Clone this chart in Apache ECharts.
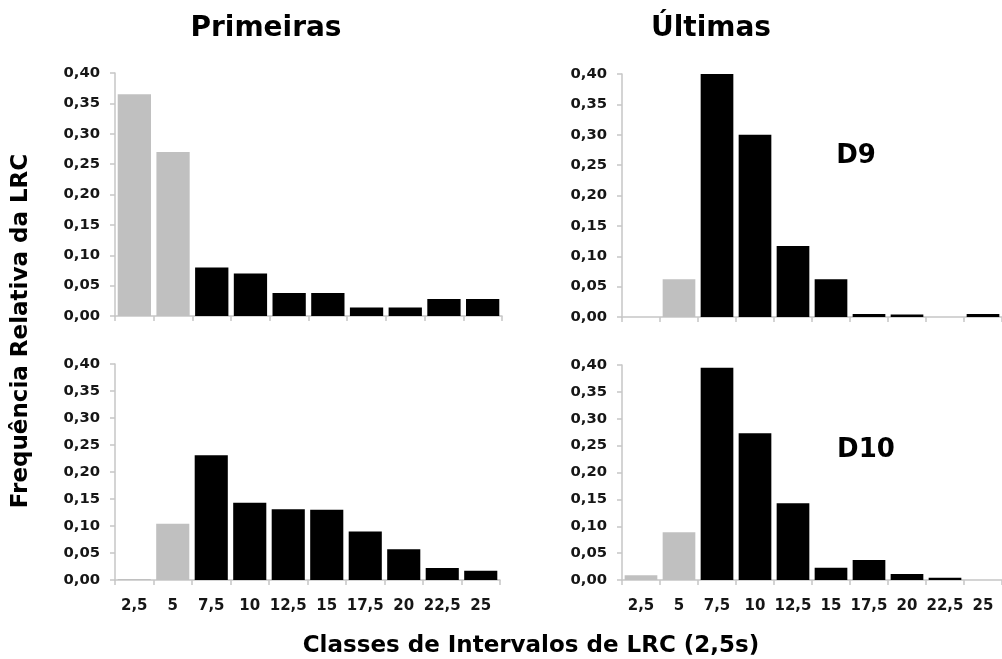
<!DOCTYPE html>
<html>
<head>
<meta charset="utf-8">
<script src="https://cdn.jsdelivr.net/npm/echarts@6/dist/echarts.min.js"></script>
<style>
  html, body { margin: 0; padding: 0; background: #fff; }
  #chart { width: 1002px; height: 659px; }
</style>
</head>
<body>
<div id="chart"></div>
<script>
// Classes de intervalos de LRC (2,5 s)
const categories = ['2,5', '5', '7,5', '10', '12,5', '15', '17,5', '20', '22,5', '25'];

// Frequência relativa por classe
const primeirasD9  = [0.365, 0.270, 0.080, 0.070, 0.038, 0.038, 0.014, 0.014, 0.028, 0.028];
const ultimasD9    = [0.000, 0.062, 0.400, 0.300, 0.117, 0.062, 0.005, 0.004, 0.000, 0.005];
const primeirasD10 = [0.002, 0.104, 0.231, 0.143, 0.131, 0.130, 0.090, 0.057, 0.022, 0.017];
const ultimasD10   = [0.009, 0.089, 0.395, 0.273, 0.143, 0.023, 0.037, 0.011, 0.004, 0.000];

// Escala do eixo de frequência
const yMin = 0;
const yMax = 0.40;
const yStep = 0.05;

// Número de classes iniciais destacadas em cinza
const highlightedClasses = 2;

const FONT = 'DejaVu Sans';
const AXIS_GRAY = '#c6c6c6';
const LABEL_COLOR = '#161616';

const grids = [
  { left: 115, top: 73,  width: 387, height: 243 },
  { left: 622, top: 74,  width: 384, height: 243 },
  { left: 115, top: 364, width: 385, height: 216 },
  { left: 622, top: 365, width: 384, height: 215 }
];

const panelData = [primeirasD9, ultimasD9, primeirasD10, ultimasD10];

function xAxisFor(i, showLabels) {
  return {
    type: 'category',
    gridIndex: i,
    data: categories,
    boundaryGap: true,
    axisLine: { show: true, lineStyle: { color: AXIS_GRAY, width: 1.5 } },
    axisTick: { show: true, length: 5, interval: 0, alignWithLabel: false, lineStyle: { color: AXIS_GRAY, width: 1.5 } },
    axisLabel: {
      show: showLabels,
      interval: 0,
      margin: 19,
      fontFamily: FONT,
      fontWeight: 'bold',
      fontSize: 15,
      color: LABEL_COLOR
    },
    splitLine: { show: false }
  };
}

function yAxisFor(i) {
  return {
    type: 'value',
    gridIndex: i,
    min: yMin,
    max: yMax,
    interval: yStep,
    axisLine: { show: true, lineStyle: { color: AXIS_GRAY, width: 1.5 } },
    axisTick: { show: true, length: 5, lineStyle: { color: AXIS_GRAY, width: 1.5 } },
    axisLabel: {
      margin: 15,
      fontFamily: FONT,
      fontWeight: 'bold',
      fontSize: 14.8,
      color: LABEL_COLOR,
      formatter: v => v.toFixed(2).replace('.', ',')
    },
    splitLine: { show: false }
  };
}

function textEl(text, x, y, size, rotation) {
  return {
    type: 'text',
    x: x,
    y: y,
    rotation: rotation || 0,
    style: {
      text: text,
      fill: '#000',
      font: 'bold ' + size + 'px "' + FONT + '"',
      textAlign: 'center',
      textVerticalAlign: 'middle',
      align: 'center',
      verticalAlign: 'middle'
    }
  };
}

const chart = echarts.init(document.getElementById('chart'), null, { renderer: 'canvas' });

chart.setOption({
  animation: false,
  backgroundColor: '#fff',
  grid: grids,
  xAxis: [xAxisFor(0, false), xAxisFor(1, false), xAxisFor(2, true), xAxisFor(3, true)],
  yAxis: [yAxisFor(0), yAxisFor(1), yAxisFor(2), yAxisFor(3)],
  series: panelData.map((values, i) => ({
    type: 'bar',
    xAxisIndex: i,
    yAxisIndex: i,
    data: values,
    barCategoryGap: '14%',
    itemStyle: {
      color: p => (p.dataIndex < highlightedClasses ? '#c0c0c0' : '#000000')
    }
  })),
  graphic: [
    textEl('Primeiras', 266, 29, 28),
    textEl('Últimas', 711, 29, 28),
    textEl('D9', 856, 156, 26),
    textEl('D10', 866, 450, 26),
    textEl('Classes de Intervalos de LRC (2,5s)', 531, 646, 23),
    textEl('Frequência Relativa da LRC', 21, 331, 23, Math.PI / 2)
  ]
});
</script>
</body>
</html>
